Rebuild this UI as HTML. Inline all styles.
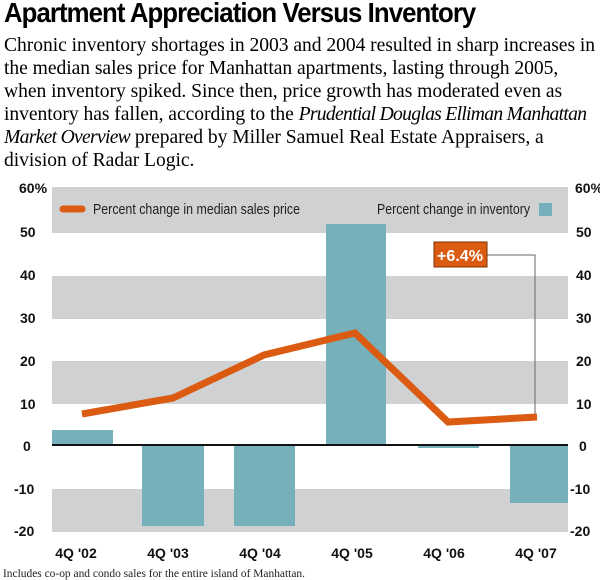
<!DOCTYPE html><html><head><style>
body{margin:0;width:600px;height:580px;background:#fff;position:relative;overflow:hidden;font-family:"Liberation Sans",sans-serif}
.t{position:absolute;left:4px;top:-3px;font-size:28px;font-weight:bold;letter-spacing:-1px;transform:scaleX(0.92);transform-origin:left;white-space:nowrap}
.p{position:absolute;left:4px;top:34px;font-family:"Liberation Serif",serif;font-size:19.6px;line-height:23px;letter-spacing:-0.05px;white-space:nowrap}
.p i{letter-spacing:-0.7px}
</style></head><body>
<div class="t">Apartment Appreciation Versus Inventory</div>
<div class="p">Chronic inventory shortages in 2003 and 2004 resulted in sharp increases in<br>the median sales price for Manhattan apartments, lasting through 2005,<br>when inventory spiked. Since then, price growth has moderated even as<br>inventory has fallen, according to the <i>Prudential Douglas Elliman Manhattan</i><br><i>Market Overview</i> prepared by Miller Samuel Real Estate Appraisers, a<br>division of Radar Logic.</div>
<svg width="600" height="580" style="position:absolute;left:0;top:0" font-family="Liberation Sans,sans-serif">
<g fill="#d0d1d3">
<rect x="52" y="187" width="516" height="46"/><rect x="52" y="276" width="516" height="43"/><rect x="52" y="361" width="516" height="43"/><rect x="52" y="489" width="516" height="43"/></g>
<g fill="#75b0bb">
<rect x="52" y="430" width="61" height="15"/><rect x="142" y="445" width="62" height="81"/><rect x="234" y="445" width="61" height="81"/><rect x="326" y="224" width="60" height="221"/><rect x="418" y="445" width="61" height="3"/><rect x="510" y="445" width="58" height="58"/><rect x="539" y="203" width="13" height="13"/></g>
<line x1="52" y1="445" x2="568" y2="445" stroke="#111" stroke-width="2"/>
<polyline points="487,255 535,255 535,417" fill="none" stroke="#666" stroke-width="1"/>
<polyline points="82,414 173,398 264,355 355,333 448,422 537,417" fill="none" stroke="#db5b12" stroke-width="7" stroke-linejoin="miter"/>
<line x1="63" y1="209" x2="82" y2="209" stroke="#db5b12" stroke-width="7" stroke-linecap="round"/>
<rect x="434" y="242" width="53" height="25" fill="#db5b12" stroke="#7a3000"/>
<text x="460" y="261" fill="#fff" font-size="16" font-weight="bold" text-anchor="middle" textLength="46" lengthAdjust="spacingAndGlyphs">+6.4%</text>
<g font-size="15" fill="#222"><text x="93" y="214" textLength="207" lengthAdjust="spacingAndGlyphs">Percent change in median sales price</text><text x="377" y="214" textLength="153" lengthAdjust="spacingAndGlyphs">Percent change in inventory</text></g>
<g font-size="14" font-weight="bold" fill="#111">
<text x="19" y="193">60%</text><text x="20" y="237">50</text><text x="20" y="280">40</text><text x="20" y="323">30</text><text x="20" y="366">20</text><text x="20" y="409">10</text><text x="23" y="451">0</text><text x="14" y="494">-10</text><text x="14" y="536">-20</text>
<text x="575" y="193">60%</text><text x="576" y="237">50</text><text x="576" y="280">40</text><text x="576" y="323">30</text><text x="576" y="366">20</text><text x="576" y="409">10</text><text x="579" y="451">0</text><text x="570" y="494">-10</text><text x="570" y="536">-20</text>
<g text-anchor="middle"><text x="76" y="558">4Q '02</text><text x="168" y="558">4Q '03</text><text x="260" y="558">4Q '04</text><text x="352" y="558">4Q '05</text><text x="444" y="558">4Q '06</text><text x="536" y="558">4Q '07</text></g></g>
<text x="3" y="577" font-family="Liberation Serif,serif" font-size="12" fill="#222" textLength="302" lengthAdjust="spacingAndGlyphs">Includes co-op and condo sales for the entire island of Manhattan.</text>
</svg></body></html>
